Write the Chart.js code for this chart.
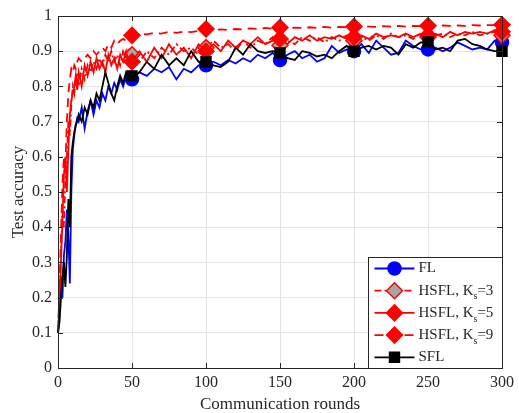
<!DOCTYPE html>
<html>
<head>
<meta charset="utf-8">
<script src="https://cdn.jsdelivr.net/npm/chart.js@4.4.1/dist/chart.umd.min.js"></script>
<style>
  html, body { margin: 0; padding: 0; background: #fff; }
  #wrap { width: 519px; height: 413px; }
</style>
</head>
<body>
<div id="wrap"><canvas id="accChart" width="519" height="413"></canvas></div>
<script>
// rounds sampled from the figure
const rounds = [0, 1, 2, 3, 4, 5, 6, 7, 8, 9, 10, 11, 12, 13,
  14, 16, 18, 20, 22, 24, 26, 28, 30, 32, 34, 36, 38, 40, 42, 44, 46, 48, 50,
  55, 60, 65, 70, 75, 80, 85, 90, 95, 100,
  105, 110, 115, 120, 125, 130, 135, 140, 145, 150,
  155, 160, 165, 170, 175, 180, 185, 190, 195, 200,
  205, 210, 215, 220, 225, 230, 235, 240, 245, 250,
  255, 260, 265, 270, 275, 280, 285, 290, 295, 300];

const flAcc = [0.10, 0.16, 0.26, 0.20, 0.32, 0.36, 0.45, 0.38, 0.24, 0.50, 0.62, 0.66, 0.69, 0.71,
  0.70, 0.74, 0.68, 0.73, 0.76, 0.72, 0.76, 0.74, 0.78, 0.76, 0.80, 0.78, 0.81, 0.79, 0.82, 0.80, 0.83, 0.81, 0.82,
  0.84, 0.83, 0.85, 0.84, 0.855, 0.82, 0.85, 0.84, 0.86, 0.86,
  0.87, 0.86, 0.875, 0.865, 0.88, 0.87, 0.89, 0.88, 0.895, 0.875,
  0.89, 0.90, 0.88, 0.89, 0.87, 0.88, 0.915, 0.895, 0.905, 0.90,
  0.92, 0.895, 0.93, 0.91, 0.89, 0.895, 0.93, 0.915, 0.905, 0.905,
  0.91, 0.90, 0.91, 0.925, 0.915, 0.905, 0.91, 0.905, 0.93, 0.925];

const hsfl3Acc = [0.10, 0.20, 0.33, 0.45, 0.40, 0.55, 0.60, 0.70, 0.66, 0.75, 0.80, 0.78, 0.82, 0.84,
  0.80, 0.85, 0.82, 0.86, 0.84, 0.87, 0.85, 0.88, 0.86, 0.89, 0.87, 0.90, 0.87, 0.89, 0.86, 0.90, 0.88, 0.91, 0.89,
  0.87, 0.90, 0.88, 0.91, 0.89, 0.92, 0.90, 0.91, 0.89, 0.91,
  0.93, 0.91, 0.92, 0.90, 0.93, 0.91, 0.93, 0.92, 0.94, 0.917,
  0.93, 0.92, 0.94, 0.93, 0.94, 0.925, 0.94, 0.93, 0.945, 0.93,
  0.94, 0.93, 0.945, 0.935, 0.95, 0.94, 0.945, 0.935, 0.95, 0.94,
  0.945, 0.95, 0.94, 0.95, 0.945, 0.955, 0.945, 0.95, 0.955, 0.945];

const hsfl5Acc = [0.10, 0.18, 0.30, 0.42, 0.55, 0.60, 0.50, 0.62, 0.72, 0.76, 0.78, 0.80, 0.83, 0.79,
  0.84, 0.80, 0.86, 0.83, 0.87, 0.84, 0.88, 0.85, 0.87, 0.84, 0.89, 0.86, 0.88, 0.85, 0.89, 0.87, 0.90, 0.86, 0.87,
  0.90, 0.87, 0.91, 0.88, 0.92, 0.89, 0.91, 0.88, 0.92, 0.90,
  0.92, 0.90, 0.93, 0.91, 0.93, 0.92, 0.94, 0.92, 0.93, 0.935,
  0.92, 0.94, 0.93, 0.945, 0.93, 0.94, 0.935, 0.945, 0.935, 0.94,
  0.945, 0.935, 0.95, 0.94, 0.945, 0.94, 0.95, 0.94, 0.95, 0.945,
  0.95, 0.94, 0.955, 0.945, 0.955, 0.95, 0.955, 0.95, 0.96, 0.955];

const hsfl9Acc = [0.10, 0.22, 0.38, 0.52, 0.60, 0.58, 0.70, 0.78, 0.82, 0.85, 0.84, 0.86, 0.85, 0.87,
  0.88, 0.87, 0.88, 0.89, 0.88, 0.90, 0.89, 0.90, 0.91, 0.90, 0.92, 0.91, 0.93, 0.92, 0.93, 0.935, 0.93, 0.94, 0.945,
  0.95, 0.948, 0.952, 0.95, 0.955, 0.952, 0.956, 0.954, 0.958, 0.963,
  0.96, 0.962, 0.96, 0.963, 0.962, 0.965, 0.963, 0.966, 0.964, 0.967,
  0.965, 0.967, 0.966, 0.968, 0.966, 0.969, 0.967, 0.969, 0.968, 0.97,
  0.968, 0.97, 0.969, 0.971, 0.97, 0.972, 0.97, 0.972, 0.971, 0.972,
  0.971, 0.973, 0.972, 0.973, 0.972, 0.974, 0.973, 0.974, 0.974, 0.975];

const sflAcc = [0.10, 0.13, 0.20, 0.26, 0.30, 0.23, 0.32, 0.48, 0.40, 0.60, 0.64, 0.67, 0.69, 0.70,
  0.72, 0.70, 0.74, 0.72, 0.76, 0.74, 0.78, 0.76, 0.80, 0.84, 0.81, 0.78, 0.76, 0.80, 0.83, 0.81, 0.84, 0.82, 0.83,
  0.84, 0.87, 0.85, 0.89, 0.86, 0.88, 0.86, 0.90, 0.87, 0.87,
  0.86, 0.855, 0.87, 0.91, 0.89, 0.92, 0.90, 0.895, 0.90, 0.895,
  0.88, 0.875, 0.90, 0.895, 0.885, 0.89, 0.88, 0.90, 0.915, 0.90,
  0.91, 0.915, 0.905, 0.915, 0.91, 0.89, 0.92, 0.91, 0.925, 0.926,
  0.905, 0.91, 0.90, 0.93, 0.935, 0.92, 0.915, 0.905, 0.90, 0.90];

const xTicks = [0, 50, 100, 150, 200, 250, 300];
const yTicks = [0, 0.1, 0.2, 0.3, 0.4, 0.5, 0.6, 0.7, 0.8, 0.9, 1];

const INK = '#262626';
const FONT = '"Liberation Serif", "Times New Roman", serif';
Chart.defaults.font.family = FONT;
Chart.defaults.color = INK;

function toPoints(vals) {
  return rounds.map((r, i) => ({ x: r, y: vals[i] }));
}

// markers every 50 rounds, like the original figure
function markerAt(size) {
  return function(ctx) {
    const r = rounds[ctx.dataIndex];
    return (r > 0 && r % 50 === 0) ? size : 0;
  };
}

const series = [
  { label: 'FL', sub: '', data: flAcc, color: '#0000ff', fill: '#0000ff', dash: [], style: 'circle', size: 6.5, order: 5 },
  { label: 'HSFL, K', sub: 's', tail: '=3', data: hsfl3Acc, color: '#ff0000', fill: '#a6a6a6', dash: [7, 3, 2, 3], style: 'rectRot', size: 8, order: 4 },
  { label: 'HSFL, K', sub: 's', tail: '=5', data: hsfl5Acc, color: '#ff0000', fill: '#ff0000', dash: [], style: 'rectRot', size: 8, order: 3 },
  { label: 'HSFL, K', sub: 's', tail: '=9', data: hsfl9Acc, color: '#ff0000', fill: '#ff0000', dash: [9, 6], style: 'rectRot', size: 8, order: 2 },
  { label: 'SFL', sub: '', data: sflAcc, color: '#000000', fill: '#000000', dash: [], style: 'rect', size: 7, order: 1 }
];

const frameTicks = {
  id: 'frameTicks',
  afterDatasetsDraw(chart) {
    const { ctx, chartArea: a, scales } = chart;
    ctx.save();
    ctx.strokeStyle = INK;
    ctx.lineWidth = 1;
    ctx.setLineDash([]);
    ctx.beginPath();
    xTicks.forEach(v => {
      const px = Math.round(scales.x.getPixelForValue(v)) + 0.5;
      ctx.moveTo(px, a.bottom); ctx.lineTo(px, a.bottom - 5);
      ctx.moveTo(px, a.top); ctx.lineTo(px, a.top + 5);
    });
    yTicks.forEach(v => {
      const py = Math.round(scales.y.getPixelForValue(v)) + 0.5;
      ctx.moveTo(a.left, py); ctx.lineTo(a.left + 5, py);
      ctx.moveTo(a.right, py); ctx.lineTo(a.right - 5, py);
    });
    ctx.stroke();
    ctx.strokeRect(Math.round(a.left) + 0.5, Math.round(a.top) + 0.5,
      Math.round(a.right - a.left), Math.round(a.bottom - a.top));
    ctx.restore();
  }
};

const boxLegend = {
  id: 'boxLegend',
  afterDraw(chart) {
    const { ctx, chartArea: a } = chart;
    const w = 134, h = 111;
    const left = Math.round(a.right) - w + 0.5;
    const top = Math.round(a.bottom) - h + 0.5;
    ctx.save();
    ctx.fillStyle = '#fff';
    ctx.fillRect(left, top, w, h);
    ctx.strokeStyle = INK;
    ctx.lineWidth = 1;
    ctx.strokeRect(left, top, w, h);
    series.forEach((s, i) => {
      const cy = top + 11 + i * 22.2;
      ctx.strokeStyle = s.color;
      ctx.lineWidth = 1.8;
      ctx.setLineDash(s.dash);
      ctx.beginPath();
      ctx.moveTo(left + 6, cy);
      ctx.lineTo(left + 46, cy);
      ctx.stroke();
      ctx.setLineDash([]);
      ctx.fillStyle = s.fill;
      ctx.strokeStyle = s.color;
      ctx.lineWidth = 1.5;
      Chart.helpers.drawPoint(ctx, { pointStyle: s.style, radius: s.size, rotation: 0, borderWidth: 1.5 }, left + 26, cy);
      ctx.fillStyle = INK;
      ctx.textBaseline = 'middle';
      ctx.textAlign = 'left';
      ctx.font = '15px ' + FONT;
      let tx = left + 50;
      ctx.fillText(s.label, tx, cy);
      if (s.sub) {
        tx += ctx.measureText(s.label).width;
        ctx.font = '10px ' + FONT;
        ctx.fillText(s.sub, tx, cy + 6);
        tx += ctx.measureText(s.sub).width;
        ctx.font = '15px ' + FONT;
        ctx.fillText(s.tail, tx, cy);
      }
    });
    ctx.restore();
  }
};

const ctx = document.getElementById('accChart').getContext('2d');
new Chart(ctx, {
  type: 'line',
  data: {
    datasets: series.map(s => ({
      label: s.label + s.sub + (s.tail || ''),
      data: toPoints(s.data),
      borderColor: s.color,
      backgroundColor: s.fill,
      borderWidth: 1.8,
      borderDash: s.dash,
      pointStyle: s.style,
      pointRadius: markerAt(s.size),
      pointBorderColor: s.color,
      pointBackgroundColor: s.fill,
      pointBorderWidth: 1.5,
      tension: 0,
      clip: false,
      order: s.order
    }))
  },
  options: {
    responsive: false,
    animation: false,
    events: [],
    layout: { padding: { left: 0, right: 13, top: 16, bottom: 0 } },
    plugins: {
      legend: { display: false },
      tooltip: { enabled: false }
    },
    scales: {
      x: {
        type: 'linear',
        min: 0,
        max: 300,
        afterFit(scale) { scale.height = 45; },
        afterBuildTicks(scale) { scale.ticks = xTicks.map(v => ({ value: v })); },
        grid: { color: '#e3e3e3', drawTicks: false },
        border: { display: false },
        ticks: { padding: 5, font: { size: 16 }, color: INK, maxRotation: 0 },
        title: { display: true, text: 'Communication rounds', font: { size: 17 }, color: INK, padding: { top: 0, bottom: -2 } }
      },
      y: {
        min: 0,
        max: 1,
        afterFit(scale) { scale.width = 58; },
        afterBuildTicks(scale) { scale.ticks = yTicks.map(v => ({ value: v })); },
        grid: { color: '#e3e3e3', drawTicks: false },
        border: { display: false },
        ticks: { padding: 6, font: { size: 16 }, color: INK, callback: v => String(parseFloat(v.toFixed(1))) },
        title: { display: true, text: 'Test accuracy', font: { size: 17 }, color: INK, padding: { top: 8, bottom: 0 } }
      }
    }
  },
  plugins: [frameTicks, boxLegend]
});
</script>
</body>
</html>
